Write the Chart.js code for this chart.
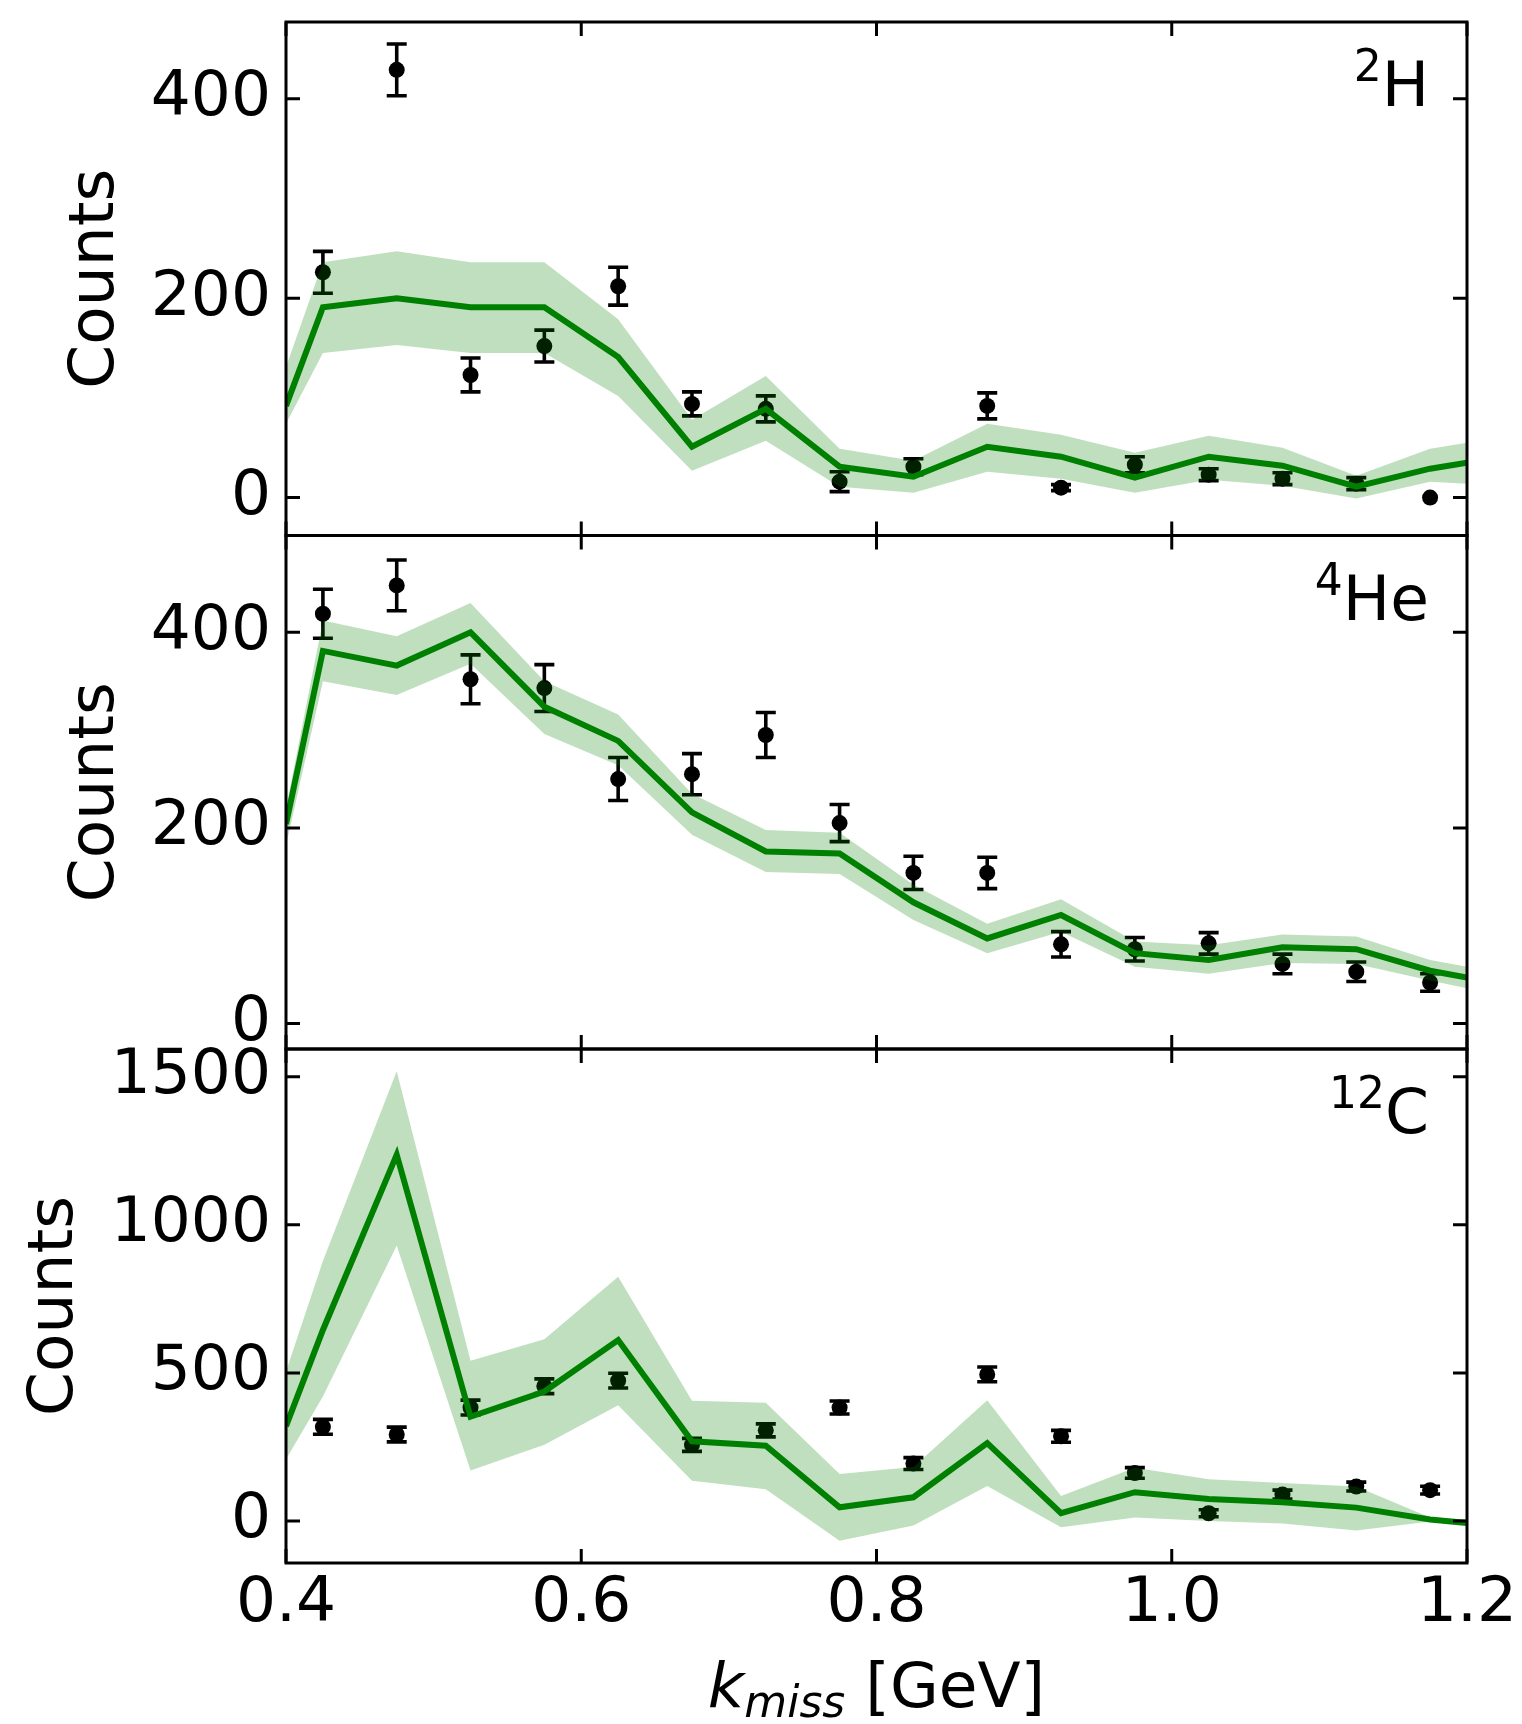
<!DOCTYPE html>
<html>
<head>
<meta charset="utf-8">
<script src="https://cdn.jsdelivr.net/npm/chart.js@4.4.1/dist/chart.umd.min.js"></script>
<style>
html, body { margin: 0; padding: 0; background: #fff; }
#wrap { position: relative; width: 1522px; height: 1724px; overflow: hidden; background: #fff; }
#wrap canvas { position: absolute; left: 0; }
</style>
</head>
<body>
<div id="wrap">
  <canvas id="c1" width="1522" height="560" style="top:0px;width:1522px;height:560px"></canvas>
  <canvas id="c2" width="1522" height="560" style="top:510px;width:1522px;height:560px"></canvas>
  <canvas id="c3" width="1522" height="699" style="top:1025px;width:1522px;height:699px"></canvas>
</div>
<script>
// bin centres of the measured points
const kMiss = [0.425, 0.475, 0.525, 0.575, 0.625, 0.675, 0.725, 0.775, 0.825, 0.875, 0.925, 0.975, 1.025, 1.075, 1.125, 1.175];
// model curve nodes (edges + bin centres)
const modelK = [0.4, 0.425, 0.475, 0.525, 0.575, 0.625, 0.675, 0.725, 0.775, 0.825, 0.875, 0.925, 0.975, 1.025, 1.075, 1.125, 1.175, 1.2];
const xTicks = [0.4, 0.6, 0.8, 1.0, 1.2];

// 2H
const h2Counts = [226, 429, 123, 152, 212, 94, 89, 16, 31, 92, 10, 33, 23, 19, 14, 0];
const h2Err    = [21, 26, 17, 16, 19, 12, 13, 10, 8, 13, 3, 8, 6, 6, 6, 0];
const h2Model  = [92, 191, 200, 191, 191, 141, 51, 89, 31, 21, 51, 41, 20, 41, 32, 11, 29, 35];
const h2Upper  = [131, 236, 247, 236, 236, 179, 78, 122, 49, 37, 74, 63, 45, 62, 50, 22, 49, 55];
const h2Lower  = [74, 145, 153, 145, 145, 102, 27, 57, 11, 5, 26, 19, 5, 18, 12, -1, 16, 14];
const h2Ticks  = [0, 200, 400];

// 4He
const he4Counts = [419, 448, 352, 343, 250, 255, 295, 205, 154, 154, 81, 76, 82, 61, 53, 42];
const he4Err    = [25, 26, 25, 24, 22, 21, 23, 19, 17, 16, 13, 12, 11, 10, 10, 9];
const he4Model  = [204, 381, 366, 400, 324, 289, 216, 176, 174, 124, 87, 111, 72, 65, 78, 76, 54, 47];
const he4Upper  = [220, 412, 396, 430, 350, 316, 235, 198, 195, 142, 102, 127, 84, 80, 91, 89, 65, 58];
const he4Lower  = [182, 350, 336, 368, 296, 264, 193, 155, 153, 106, 72, 94, 58, 51, 62, 61, 44, 36];
const he4Ticks  = [0, 200, 400];

// 12C
const c12Counts = [318, 292, 383, 455, 474, 257, 306, 383, 194, 495, 286, 162, 26, 89, 116, 104];
const c12Err    = [25, 25, 25, 25, 25, 22, 22, 22, 20, 25, 20, 18, 12, 15, 15, 13];
const c12Model  = [320, 645, 1237, 352, 437, 611, 269, 254, 46, 80, 263, 26, 97, 74, 63, 45, 5, -7];
const c12Upper  = [505, 878, 1519, 541, 614, 825, 406, 399, 159, 182, 408, 84, 180, 141, 128, 116, 12, 5];
const c12Lower  = [208, 420, 930, 170, 257, 391, 136, 107, -67, -15, 118, -21, 12, 0, -9, -32, -2, -12];
const c12Ticks  = [0, 500, 1000, 1500];

const FONT = "'DejaVu Sans', sans-serif";
Chart.defaults.font.family = FONT;
Chart.defaults.color = '#000';

function pts(xs, ys) {
    return xs.map((x, i) => ({ x: x, y: ys[i] }));
}

// vertical error bars with caps, drawn under the band
function errorBars(values, errors) {
    return {
        id: 'errorBars',
        beforeDatasetsDraw(chart) {
            const { ctx, chartArea: a, scales: { x, y } } = chart;
            ctx.save();
            ctx.beginPath();
            ctx.rect(a.left, a.top, a.width, a.height);
            ctx.clip();
            ctx.strokeStyle = '#000';
            ctx.lineWidth = 3.6;
            values.forEach((v, i) => {
                const e = errors[i];
                if (!e) return;
                const px = x.getPixelForValue(kMiss[i]);
                const yt = y.getPixelForValue(v + e);
                const yb = y.getPixelForValue(v - e);
                ctx.beginPath();
                ctx.moveTo(px, yt); ctx.lineTo(px, yb);
                ctx.moveTo(px - 10, yt); ctx.lineTo(px + 10, yt);
                ctx.moveTo(px - 10, yb); ctx.lineTo(px + 10, yb);
                ctx.stroke();
            });
            ctx.restore();
        }
    };
}

// box around the plot + inward ticks on all sides
const frame = {
    id: 'frame',
    afterDatasetsDraw(chart) {
        const { ctx, chartArea: a, scales: { x, y } } = chart;
        ctx.save();
        ctx.strokeStyle = '#000';
        ctx.lineWidth = 3;
        ctx.strokeRect(a.left, a.top, a.width, a.height);
        ctx.beginPath();
        xTicks.forEach(v => {
            const p = x.getPixelForValue(v);
            ctx.moveTo(p, a.bottom); ctx.lineTo(p, a.bottom - 14);
            ctx.moveTo(p, a.top); ctx.lineTo(p, a.top + 14);
        });
        y.ticks.forEach(t => {
            const p = y.getPixelForValue(t.value);
            ctx.moveTo(a.left, p); ctx.lineTo(a.left + 14, p);
            ctx.moveTo(a.right, p); ctx.lineTo(a.right - 14, p);
        });
        ctx.stroke();
        ctx.restore();
    }
};

// nucleus label, e.g. 2H with superscript
function panelLabel(sup, main) {
    return {
        id: 'panelLabel',
        afterDraw(chart) {
            const { ctx, chartArea: a } = chart;
            ctx.save();
            ctx.fillStyle = '#000';
            ctx.textAlign = 'right';
            ctx.textBaseline = 'alphabetic';
            const xr = a.right - 38;
            const yb = a.top + 84;
            ctx.font = '63px ' + FONT;
            ctx.fillText(main, xr, yb);
            const w = ctx.measureText(main).width;
            ctx.font = '44px ' + FONT;
            ctx.fillText(sup, xr - w, yb - 25);
            ctx.restore();
        }
    };
}

// k_miss [GeV] axis title with italic subscript
const xTitle = {
    id: 'xTitle',
    afterDraw(chart) {
        const { ctx, chartArea: a } = chart;
        const base = a.bottom + 144;
        const parts = [
            { t: 'k', f: 'italic 63px ' + FONT, dy: 0 },
            { t: 'miss', f: 'italic 44px ' + FONT, dy: 10 },
            { t: ' [GeV]', f: '63px ' + FONT, dy: 0 }
        ];
        ctx.save();
        ctx.fillStyle = '#000';
        ctx.textAlign = 'left';
        ctx.textBaseline = 'alphabetic';
        let total = 0;
        parts.forEach(p => { ctx.font = p.f; p.w = ctx.measureText(p.t).width; total += p.w; });
        let x = (a.left + a.right) / 2 - total / 2;
        parts.forEach(p => { ctx.font = p.f; ctx.fillText(p.t, x, base + p.dy); x += p.w; });
        ctx.restore();
    }
};

function makePanel(id, cfg) {
    const datasets = [
        { label: 'data', data: pts(kMiss, cfg.counts), showLine: false, pointRadius: 8,
          pointBackgroundColor: '#000', pointBorderWidth: 0, order: 2 },
        { label: 'upper', data: pts(modelK, cfg.upper), pointRadius: 0, borderColor: 'rgba(0,0,0,0)',
          borderWidth: 0, backgroundColor: 'rgba(0,128,0,0.25)', fill: '+1', order: 1, tension: 0 },
        { label: 'lower', data: pts(modelK, cfg.lower), pointRadius: 0, borderColor: 'rgba(0,0,0,0)',
          borderWidth: 0, fill: false, order: 1, tension: 0 },
        { label: 'model', data: pts(modelK, cfg.model), pointRadius: 0, borderColor: '#008000',
          borderWidth: 6, fill: false, order: 0, tension: 0 }
    ];
    const xScale = {
        type: 'linear', min: 0.4, max: 1.2, display: cfg.showX,
        afterBuildTicks(s) { s.ticks = xTicks.map(v => ({ value: v })); },
        afterFit(s) { if (cfg.showX) s.height = 161; s.paddingLeft = 0; s.paddingRight = 0; },
        grid: { display: false, drawTicks: false },
        border: { display: false },
        ticks: { font: { size: 63 }, color: '#000', padding: 4, maxRotation: 0, autoSkip: false,
                 callback: v => Number(v).toFixed(1) }
    };
    const yScale = {
        type: 'linear', min: cfg.min, max: cfg.max,
        afterBuildTicks(s) { s.ticks = cfg.ticks.map(v => ({ value: v })); },
        afterFit(s) { s.width = 286; s.paddingTop = 0; s.paddingBottom = 0; },
        grid: { display: false, drawTicks: false },
        border: { display: false },
        ticks: { font: { size: 63 }, color: '#000', padding: 15, callback: v => String(v) },
        title: { display: true, text: 'Counts', font: { size: 63 }, color: '#000',
                 padding: { top: cfg.titlePad, bottom: 0 } }
    };
    const plugins = [errorBars(cfg.counts, cfg.err), frame, panelLabel(cfg.sup, cfg.name)];
    if (cfg.showX) plugins.push(xTitle);
    return new Chart(document.getElementById(id), {
        type: 'line',
        data: { datasets: datasets },
        options: {
            responsive: false,
            animation: false,
            events: [],
            layout: { padding: cfg.padding },
            plugins: { legend: { display: false }, tooltip: { enabled: false } },
            scales: { x: xScale, y: yScale }
        },
        plugins: plugins
    });
}

makePanel('c1', {
    counts: h2Counts, err: h2Err, model: h2Model, upper: h2Upper, lower: h2Lower, ticks: h2Ticks,
    min: -38, max: 477, sup: '2', name: 'H', showX: false, titlePad: 59,
    padding: { top: 22, bottom: 24.5, left: 0, right: 55 }
});
makePanel('c2', {
    counts: he4Counts, err: he4Err, model: he4Model, upper: he4Upper, lower: he4Lower, ticks: he4Ticks,
    min: -26, max: 499, sup: '4', name: 'He', showX: false, titlePad: 59,
    padding: { top: 25.5, bottom: 21, left: 0, right: 55 }
});
makePanel('c3', {
    counts: c12Counts, err: c12Err, model: c12Model, upper: c12Upper, lower: c12Lower, ticks: c12Ticks,
    min: -142, max: 1594, sup: '12', name: 'C', showX: true, titlePad: 18,
    padding: { top: 24, bottom: 0, left: 0, right: 55 }
});
</script>
</body>
</html>
